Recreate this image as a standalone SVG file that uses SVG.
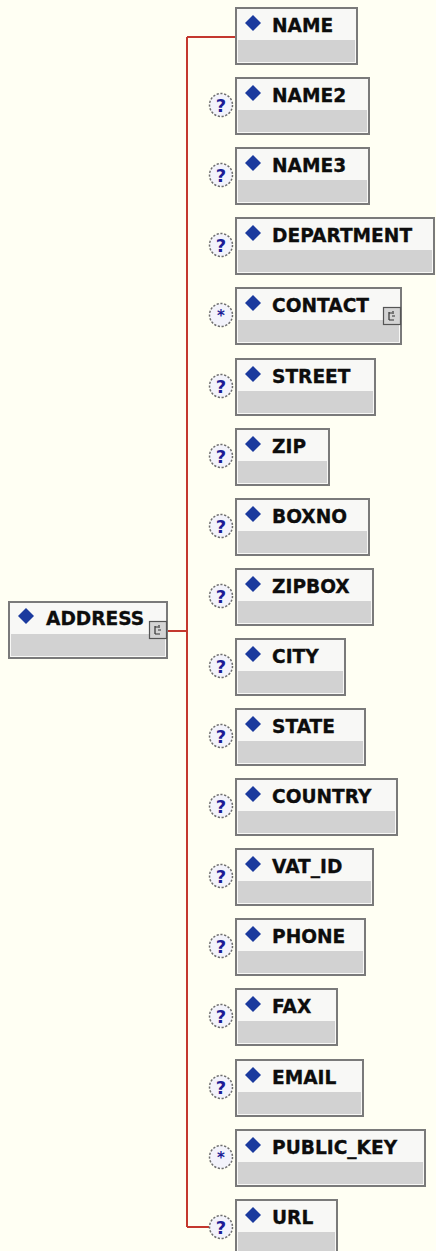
<svg xmlns="http://www.w3.org/2000/svg" xmlns:xlink="http://www.w3.org/1999/xlink" width="436" height="1251" viewBox="0 0 436 1251">
<style>
.box{fill:#f8f8f6;stroke:#7a7a7a;stroke-width:2}
.body{fill:#d2d2d2}
.lbl{font-family:"DejaVu Sans",Verdana,sans-serif;font-weight:bold;font-size:18.6px;fill:#0d0d0d;stroke:#0d0d0d;stroke-width:0.3}
.wire{fill:none;stroke:#c4382e;stroke-width:2}
</style>
<defs>
<path id="dia" d="M0,-8 L8,0 L0,8 L-8,0 Z" fill="#1b3a9e"/>
<g id="opt">
<circle r="11.5" fill="#f3f3fb" stroke="#6e6e6e" stroke-width="1.5" stroke-dasharray="2.2 1.6"/>
<text x="0" y="6.5" text-anchor="middle" font-family="DejaVu Sans,sans-serif" font-weight="bold" font-size="18" fill="#1c1c96">?</text>
</g>
<g id="star">
<circle r="11.5" fill="#f3f3fb" stroke="#6e6e6e" stroke-width="1.5" stroke-dasharray="2.2 1.6"/>
<text x="0" y="6" text-anchor="middle" font-family="DejaVu Sans,sans-serif" font-weight="bold" font-size="15" fill="#1c1c96">*</text>
</g>
<g id="exp">
<rect x="0.5" y="0.5" width="17" height="17" fill="#d4d4d4" stroke="#555" stroke-width="1.2"/>
<path d="M6,5 V13 M6,6 H9 M6,13 H11 M10,4 V7 M9,9 H12" fill="none" stroke="#333" stroke-width="1.2"/>
</g>
</defs>
<rect width="436" height="1251" fill="#fffff3"/>
<g id="connectors">
<path class="wire" d="M168,631 H187 M187,37 V1227 M187,37 H235 M187,1227 H209"/>
</g>
<g id="node-ADDRESS">
<rect class="box" x="9" y="602" width="158" height="56"/>
<rect class="body" x="11" y="634" width="154" height="22"/>
<use xlink:href="#dia" x="26" y="616"/>
<text class="lbl" x="46" y="625">ADDRESS</text>
<use xlink:href="#exp" x="149" y="621"/>
</g>
<g id="node-NAME">
<rect class="box" x="236" y="8" width="121" height="56"/>
<rect class="body" x="238" y="40" width="117" height="22"/>
<use xlink:href="#dia" x="253" y="23"/>
<text class="lbl" x="272" y="32">NAME</text>
</g>
<g id="node-NAME2">
<rect class="box" x="236" y="78" width="133" height="56"/>
<rect class="body" x="238" y="110" width="129" height="22"/>
<use xlink:href="#dia" x="253" y="93"/>
<text class="lbl" x="272" y="102">NAME2</text>
<use xlink:href="#opt" x="221" y="105"/>
</g>
<g id="node-NAME3">
<rect class="box" x="236" y="148" width="133" height="56"/>
<rect class="body" x="238" y="180" width="129" height="22"/>
<use xlink:href="#dia" x="253" y="163"/>
<text class="lbl" x="272" y="172">NAME3</text>
<use xlink:href="#opt" x="221" y="175"/>
</g>
<g id="node-DEPARTMENT">
<rect class="box" x="236" y="218" width="198" height="56"/>
<rect class="body" x="238" y="250" width="194" height="22"/>
<use xlink:href="#dia" x="253" y="233"/>
<text class="lbl" x="272" y="242">DEPARTMENT</text>
<use xlink:href="#opt" x="221" y="245"/>
</g>
<g id="node-CONTACT">
<rect class="box" x="236" y="288" width="165" height="56"/>
<rect class="body" x="238" y="320" width="161" height="22"/>
<use xlink:href="#dia" x="253" y="303"/>
<text class="lbl" x="272" y="312">CONTACT</text>
<use xlink:href="#exp" x="383" y="307"/>
<use xlink:href="#star" x="221" y="315"/>
</g>
<g id="node-STREET">
<rect class="box" x="236" y="359" width="139" height="56"/>
<rect class="body" x="238" y="391" width="135" height="22"/>
<use xlink:href="#dia" x="253" y="374"/>
<text class="lbl" x="272" y="383">STREET</text>
<use xlink:href="#opt" x="221" y="386"/>
</g>
<g id="node-ZIP">
<rect class="box" x="236" y="429" width="93" height="56"/>
<rect class="body" x="238" y="461" width="89" height="22"/>
<use xlink:href="#dia" x="253" y="444"/>
<text class="lbl" x="272" y="453">ZIP</text>
<use xlink:href="#opt" x="221" y="456"/>
</g>
<g id="node-BOXNO">
<rect class="box" x="236" y="499" width="133" height="56"/>
<rect class="body" x="238" y="531" width="129" height="22"/>
<use xlink:href="#dia" x="253" y="514"/>
<text class="lbl" x="272" y="523">BOXNO</text>
<use xlink:href="#opt" x="221" y="526"/>
</g>
<g id="node-ZIPBOX">
<rect class="box" x="236" y="569" width="137" height="56"/>
<rect class="body" x="238" y="601" width="133" height="22"/>
<use xlink:href="#dia" x="253" y="584"/>
<text class="lbl" x="272" y="593">ZIPBOX</text>
<use xlink:href="#opt" x="221" y="596"/>
</g>
<g id="node-CITY">
<rect class="box" x="236" y="639" width="109" height="56"/>
<rect class="body" x="238" y="671" width="105" height="22"/>
<use xlink:href="#dia" x="253" y="654"/>
<text class="lbl" x="272" y="663">CITY</text>
<use xlink:href="#opt" x="221" y="666"/>
</g>
<g id="node-STATE">
<rect class="box" x="236" y="709" width="129" height="56"/>
<rect class="body" x="238" y="741" width="125" height="22"/>
<use xlink:href="#dia" x="253" y="724"/>
<text class="lbl" x="272" y="733">STATE</text>
<use xlink:href="#opt" x="221" y="736"/>
</g>
<g id="node-COUNTRY">
<rect class="box" x="236" y="779" width="161" height="56"/>
<rect class="body" x="238" y="811" width="157" height="22"/>
<use xlink:href="#dia" x="253" y="794"/>
<text class="lbl" x="272" y="803">COUNTRY</text>
<use xlink:href="#opt" x="221" y="806"/>
</g>
<g id="node-VAT_ID">
<rect class="box" x="236" y="849" width="137" height="56"/>
<rect class="body" x="238" y="881" width="133" height="22"/>
<use xlink:href="#dia" x="253" y="864"/>
<text class="lbl" x="272" y="873">VAT_ID</text>
<use xlink:href="#opt" x="221" y="876"/>
</g>
<g id="node-PHONE">
<rect class="box" x="236" y="919" width="129" height="56"/>
<rect class="body" x="238" y="951" width="125" height="22"/>
<use xlink:href="#dia" x="253" y="934"/>
<text class="lbl" x="272" y="943">PHONE</text>
<use xlink:href="#opt" x="221" y="946"/>
</g>
<g id="node-FAX">
<rect class="box" x="236" y="989" width="101" height="56"/>
<rect class="body" x="238" y="1021" width="97" height="22"/>
<use xlink:href="#dia" x="253" y="1004"/>
<text class="lbl" x="272" y="1013">FAX</text>
<use xlink:href="#opt" x="221" y="1016"/>
</g>
<g id="node-EMAIL">
<rect class="box" x="236" y="1060" width="127" height="56"/>
<rect class="body" x="238" y="1092" width="123" height="22"/>
<use xlink:href="#dia" x="253" y="1075"/>
<text class="lbl" x="272" y="1084">EMAIL</text>
<use xlink:href="#opt" x="221" y="1087"/>
</g>
<g id="node-PUBLIC_KEY">
<rect class="box" x="236" y="1130" width="189" height="56"/>
<rect class="body" x="238" y="1162" width="185" height="22"/>
<use xlink:href="#dia" x="253" y="1145"/>
<text class="lbl" x="272" y="1154">PUBLIC_KEY</text>
<use xlink:href="#star" x="221" y="1157"/>
</g>
<g id="node-URL">
<rect class="box" x="236" y="1200" width="101" height="56"/>
<rect class="body" x="238" y="1232" width="97" height="22"/>
<use xlink:href="#dia" x="253" y="1215"/>
<text class="lbl" x="272" y="1224">URL</text>
<use xlink:href="#opt" x="221" y="1227"/>
</g>
</svg>
